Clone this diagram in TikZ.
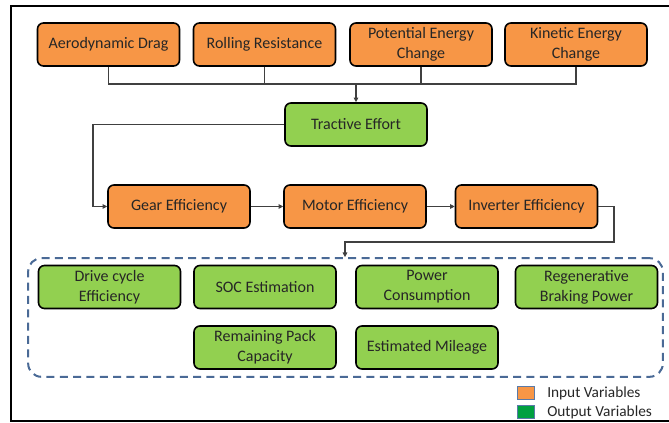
\documentclass[tikz,border=0pt]{standalone}
\usepackage{fontspec}
\setmainfont{Carlito}
\usetikzlibrary{arrows.meta}
\definecolor{inorange}{HTML}{F79646}
\definecolor{outgreen}{HTML}{92D050}
\definecolor{leggreen}{HTML}{00A040}
\definecolor{dashblue}{HTML}{4A6A96}
\definecolor{legborder}{HTML}{5A7AA8}
\definecolor{wire}{HTML}{404040}
\definecolor{txt}{HTML}{262626}
\begin{document}
\begin{tikzpicture}[x=0.75pt,y=-0.75pt,
  vbox/.style={draw=black, line width=1.2pt, rounded corners=4.5pt,
    minimum width=106.5pt, minimum height=32.25pt, align=center,
    inner sep=1pt, text=txt, font=\fontsize{12}{15}\selectfont},
  inbox/.style={vbox, fill=inorange},
  outbox/.style={vbox, fill=outgreen},
  wireline/.style={draw=wire, line width=0.8pt},
  arr/.style={wireline, -{Triangle[length=3.5pt,width=3.5pt]}},
  legsq/.style={draw=legborder, line width=1pt, minimum width=13pt, minimum height=9.5pt, inner sep=0pt},
  legtext/.style={anchor=west, inner sep=0pt, text=txt, font=\fontsize{11.5}{13}\selectfont}
]
\useasboundingbox (0,0) rectangle (669,423);
% outer frame
\draw[line width=1.6pt] (669,6) -- (11,6) -- (11,421) -- (669,421);

% input row
\node[inbox] (aero) at (108.5,44.5) {Aerodynamic Drag};
\node[inbox] (roll) at (264.5,44.5) {Rolling Resistance};
\node[inbox] (pot) at (421,44.5) {Potential Energy\\Change};
\node[inbox] (kin) at (576,44.5) {Kinetic Energy\\Change};

% tractive
\node[outbox] (trac) at (356,124.5) {Tractive Effort};

% efficiencies
\node[inbox] (gear) at (179,206.5) {Gear Efficiency};
\node[inbox] (motor) at (355,206.5) {Motor Efficiency};
\node[inbox] (inv) at (526.5,206.5) {Inverter Efficiency};

% output group
\node[draw=dashblue, line width=1.5pt, dash pattern=on 6pt off 4pt, rounded corners=10pt,
  minimum width=476pt, minimum height=89pt, inner sep=0pt] (group) at (345.5,317.5) {};
\node[outbox] (drive) at (109.5,287) {Drive cycle\\Efficiency};
\node[outbox] (soc) at (265,287) {SOC Estimation};
\node[outbox] (power) at (427,287) {Power\\Consumption};
\node[outbox] (regen) at (586.5,287) {Regenerative\\Braking Power};
\node[outbox] (remain) at (265,347.5) {Remaining Pack\\Capacity};
\node[outbox] (mile) at (427,347.5) {Estimated Mileage};

% connectors
\coordinate (bus) at (356,84);
\coordinate (c1) at (93,124.5);
\coordinate (c2) at (614,242);
\coordinate (c3) at (345,242);
\draw[wireline] (aero.south) |- (kin.south |- bus) -- (kin.south);
\draw[wireline] (roll.south) -- (roll.south |- bus);
\draw[wireline] (pot.south) -- (pot.south |- bus);
\draw[arr] (bus) -- (trac.north);
\draw[arr] (trac.west) -- (c1) |- (gear.west);
\draw[arr] (gear.east) -- (motor.west);
\draw[arr] (motor.east) -- (inv.west);
\draw[arr] (inv.east) -| (c2) -- (c3) -- (c3 |- group.north);

% legend
\node[legsq, fill=inorange] (lin) at (526,393) {};
\node[legsq, fill=leggreen] (lout) at (526,412) {};
\node[legtext] (tin) at (547,393) {Input Variables};
\node[legtext] (tout) at (547,412) {Output Variables};
\end{tikzpicture}
\end{document}
